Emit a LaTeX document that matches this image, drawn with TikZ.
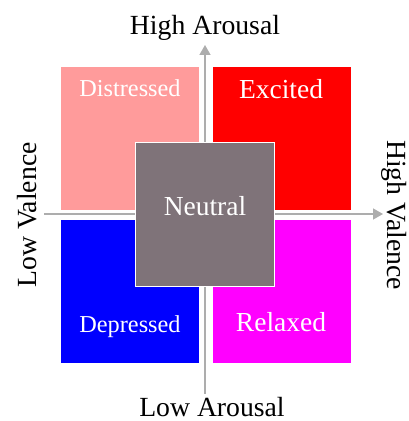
\documentclass[tikz,border=0pt]{standalone}
\usepackage{fontspec}
\setmainfont{Liberation Serif}
\usepackage{tikz}
\usetikzlibrary{arrows.meta}
\definecolor{qdist}{HTML}{FF9B9B}
\definecolor{qexc}{HTML}{FF0000}
\definecolor{qdep}{HTML}{0000FF}
\definecolor{qrel}{HTML}{FF00FF}
\definecolor{qneu}{HTML}{7F7379}
\definecolor{axgray}{HTML}{ADADAD}
\tikzset{
  quad/.style   = {rectangle, draw=white, line width=0.8pt, inner sep=0pt,
                   minimum width=139pt, minimum height=144pt},
  qlab/.style   = {text=white, anchor=base, inner sep=0pt,
                   font=\fontsize{27.5}{30}\selectfont},
  qlabsm/.style = {qlab, font=\fontsize{24.3}{27}\selectfont},
  axlab/.style  = {anchor=base, inner sep=0pt,
                   font=\fontsize{27.7}{30}\selectfont},
  axline/.style = {draw=axgray, line width=1.5pt,
                   -{Triangle[length=10pt, width=11pt]}},
}

\begin{document}
\begin{tikzpicture}[x=1pt, y=1pt]
  \useasboundingbox (0,0) rectangle (409,421);
  % axes
  \coordinate (vbot) at (205,27);
  \coordinate (vtop) at (205,376);
  \coordinate (hleft) at (44,207);
  \coordinate (hright) at (383,207);
  \draw[axline] (vbot) -- (vtop);
  \draw[axline] (hleft) -- (hright);
  \node[axlab] (hiar) at (205,386) {High Arousal};
  \node[axlab] (loar) at (212,5) {Low Arousal};
  \node[axlab, rotate=90] (loval) at (37,206) {Low Valence};
  \node[axlab, rotate=-90] (hival) at (387,206) {High Valence};
  % quadrants
  \node[quad, fill=qdist] (dist) at (129.5,283) {};
  \node[quad, fill=qexc] (exc) at (281.5,283) {};
  \node[quad, fill=qdep] (dep) at (129.5,130) {};
  \node[quad, fill=qrel] (rel) at (281.5,130) {};
  \node[quad, fill=qneu] (neu) at (204.5,207) {};
  \node[qlabsm] (distlab) at (130,324) {Distressed};
  \node[qlab] (exclab) at (281,322) {Excited};
  \node[qlab] (neulab) at (205,205) {Neutral};
  \node[qlabsm] (deplab) at (130,88) {Depressed};
  \node[qlab] (rellab) at (281,89) {Relaxed};
\end{tikzpicture}
\end{document}
